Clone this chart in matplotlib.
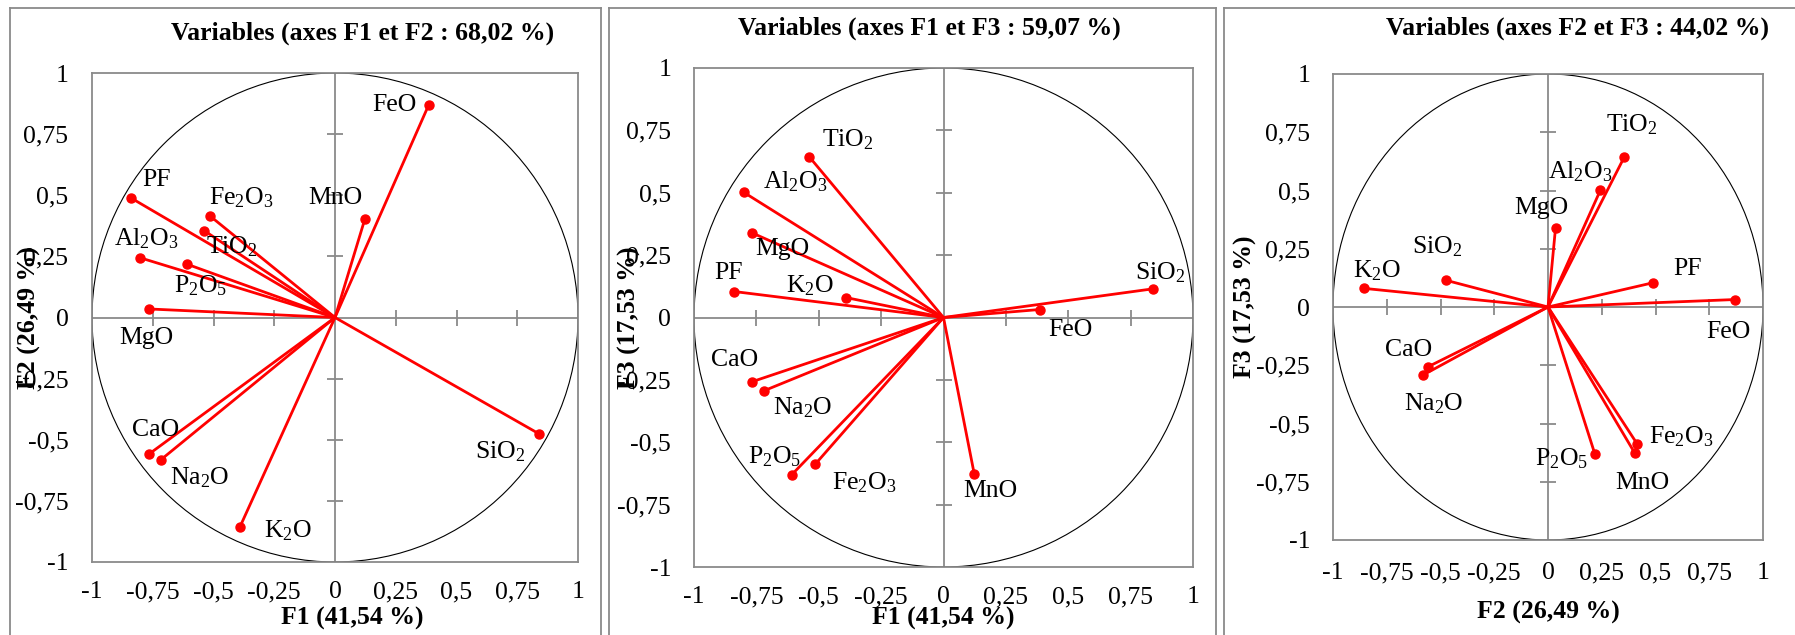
import matplotlib
matplotlib.use('Agg')
import matplotlib.pyplot as plt
from matplotlib.patches import Circle
from matplotlib.lines import Line2D

# ---------------- data ----------------
variables = ['FeO', 'MnO', 'PF', 'Fe2O3', 'TiO2', 'Al2O3', 'P2O5', 'MgO', 'CaO', 'Na2O', 'K2O', 'SiO2']
display_names = ['FeO', 'MnO', 'PF', r'Fe$_{2}$O$_{3}$', r'TiO$_{2}$', r'Al$_{2}$O$_{3}$',
                 r'P$_{2}$O$_{5}$', 'MgO', 'CaO', r'Na$_{2}$O', r'K$_{2}$O', r'SiO$_{2}$']
F1 = [0.385, 0.123, -0.838, -0.514, -0.538, -0.801, -0.609, -0.767, -0.766, -0.718, -0.391, 0.840]
F2 = [0.868, 0.403, 0.488, 0.415, 0.355, 0.244, 0.218, 0.035, -0.559, -0.583, -0.856, -0.476]
F3 = [0.032, -0.626, 0.104, -0.588, 0.644, 0.502, -0.631, 0.339, -0.257, -0.293, 0.080, 0.115]

tick_values = [-1, -0.75, -0.5, -0.25, 0, 0.25, 0.5, 0.75, 1]
tick_labels = ['-1', '-0,75', '-0,5', '-0,25', '0', '0,25', '0,5', '0,75', '1']

panel_titles = ['Variables (axes F1 et F2 : 68,02 %)',
                'Variables (axes F1 et F3 : 59,07 %)',
                'Variables (axes F2 et F3 : 44,02 %)']
axis_titles = {'F1': 'F1 (41,54 %)', 'F2': 'F2 (26,49 %)', 'F3': 'F3 (17,53 %)'}
factors = {'F1': F1, 'F2': F2, 'F3': F3}
panel_axes = [('F1', 'F2'), ('F1', 'F3'), ('F2', 'F3')]

# ---------------- layout (pixels) ----------------
W, H = 1795, 635
FS = 18.5
RED = '#FF0000'
GRAY = '#8a8a8a'

plt.rcParams['font.family'] = ['Liberation Serif', 'DejaVu Serif']
plt.rcParams['mathtext.fontset'] = 'custom'
plt.rcParams['mathtext.rm'] = 'Liberation Serif'
plt.rcParams['mathtext.it'] = 'Liberation Serif:italic'
plt.rcParams['mathtext.bf'] = 'Liberation Serif:bold'

# axes boxes: left, top, right, bottom in px
boxes = [(92, 73, 578, 562), (694, 68, 1193, 567), (1333, 74, 1763, 540)]
title_pos = [(363, 33), (929, 28), (1577, 28)]
xlabel_pos = [(352, 618), (943, 618), (1548, 612)]
ylabel_pos = [(29, 318), (629, 318), (1245, 307)]
xtick_pad = [14, 14, 16]
ytick_pad = [17, 16.5, 16.5]

# label offsets (dx, dy) in pixels, dy positive = downward
offsets = [
    {'FeO': (-34, 0), 'MnO': (-30, -21), 'PF': (25, -18), 'Fe2O3': (31, -18), 'TiO2': (28, 16),
     'Al2O3': (6, -19), 'P2O5': (14, 22), 'MgO': (-2, 29), 'CaO': (7, -24), 'Na2O': (39, 18),
     'K2O': (48, 4), 'SiO2': (-39, 18)},
    {'TiO2': (39, -17), 'Al2O3': (52, -11), 'MgO': (30, 16), 'PF': (-6, -19), 'K2O': (-36, -12),
     'SiO2': (7, -16), 'FeO': (31, 20), 'CaO': (-18, -22), 'Na2O': (38, 17), 'P2O5': (-17, -18),
     'Fe2O3': (49, 18), 'MnO': (16, 17)},
    {'TiO2': (8, -32), 'Al2O3': (-20, -18), 'MgO': (-14, -20), 'SiO2': (-9, -34), 'K2O': (13, -18),
     'PF': (35, -14), 'FeO': (-6, 32), 'CaO': (-19, -17), 'Na2O': (11, 28), 'P2O5': (-33, 5),
     'Fe2O3': (44, -7), 'MnO': (8, 30)},
]

fig = plt.figure(figsize=(W / 100, H / 100), dpi=100)
fig.patch.set_facecolor('white')


def fx(x):
    return x / W


def fy(y):
    return 1 - y / H


# panel outer borders
borders = [(10, 601, True), (609, 1216, True), (1224, None, False)]
for left, right, has_right in borders:
    r = right if right is not None else W + 5
    fig.add_artist(Line2D([fx(left), fx(left)], [fy(8), fy(H + 5)], transform=fig.transFigure,
                          color=GRAY, lw=1.3))
    fig.add_artist(Line2D([fx(left), fx(r)], [fy(8), fy(8)], transform=fig.transFigure,
                          color=GRAY, lw=1.3))
    if has_right:
        fig.add_artist(Line2D([fx(r), fx(r)], [fy(8), fy(H + 5)], transform=fig.transFigure,
                              color=GRAY, lw=1.3))

inner_ticks = [t for t in tick_values if t not in (-1, 0, 1)]

for i, (xa, ya) in enumerate(panel_axes):
    l, t, r, b = boxes[i]
    ax = fig.add_axes([fx(l), fy(b), (r - l) / W, (b - t) / H])
    ax.set_xlim(-1, 1)
    ax.set_ylim(-1, 1)
    for s in ax.spines.values():
        s.set_color(GRAY)
        s.set_linewidth(1.3)
    ax.set_xticks(tick_values)
    ax.set_xticklabels(tick_labels)
    ax.set_yticks(tick_values)
    ax.set_yticklabels(tick_labels)
    ax.tick_params(axis='x', length=0, pad=xtick_pad[i], labelsize=FS)
    ax.tick_params(axis='y', length=0, pad=ytick_pad[i], labelsize=FS)

    # internal axes and tick marks
    ax.axhline(0, color=GRAY, lw=1.3, zorder=1)
    ax.axvline(0, color=GRAY, lw=1.3, zorder=1)
    ax.plot(inner_ticks, [0] * len(inner_ticks), linestyle='none', marker='|',
            markersize=11.5, markeredgewidth=1.3, color=GRAY, zorder=1)
    ax.plot([0] * len(inner_ticks), inner_ticks, linestyle='none', marker='_',
            markersize=11.5, markeredgewidth=1.3, color=GRAY, zorder=1)

    # correlation circle
    ax.add_patch(Circle((0, 0), 1, fill=False, edgecolor='black', lw=0.8, zorder=2))

    xs = factors[xa]
    ys = factors[ya]
    for name, disp, x, y in zip(variables, display_names, xs, ys):
        ax.plot([0, x], [0, y], color=RED, lw=2.0, zorder=3, solid_capstyle='round')
        ax.plot([x], [y], marker='o', markersize=6.5, color=RED, zorder=4)
        dx, dy = offsets[i][name]
        ax.annotate(disp, (x, y), xytext=(dx, -dy), textcoords='offset pixels',
                    ha='center', va='center', fontsize=FS, color='black', zorder=5)

    fig.text(fx(title_pos[i][0]), fy(title_pos[i][1]), panel_titles[i], ha='center', va='center',
             fontsize=FS, fontweight='bold')
    fig.text(fx(xlabel_pos[i][0]), fy(xlabel_pos[i][1]), axis_titles[xa], ha='center', va='center',
             fontsize=FS, fontweight='bold')
    fig.text(fx(ylabel_pos[i][0]), fy(ylabel_pos[i][1]), axis_titles[ya], ha='center', va='center',
             fontsize=FS, fontweight='bold', rotation=90)

fig.savefig('out.png', dpi=100, facecolor='white')
